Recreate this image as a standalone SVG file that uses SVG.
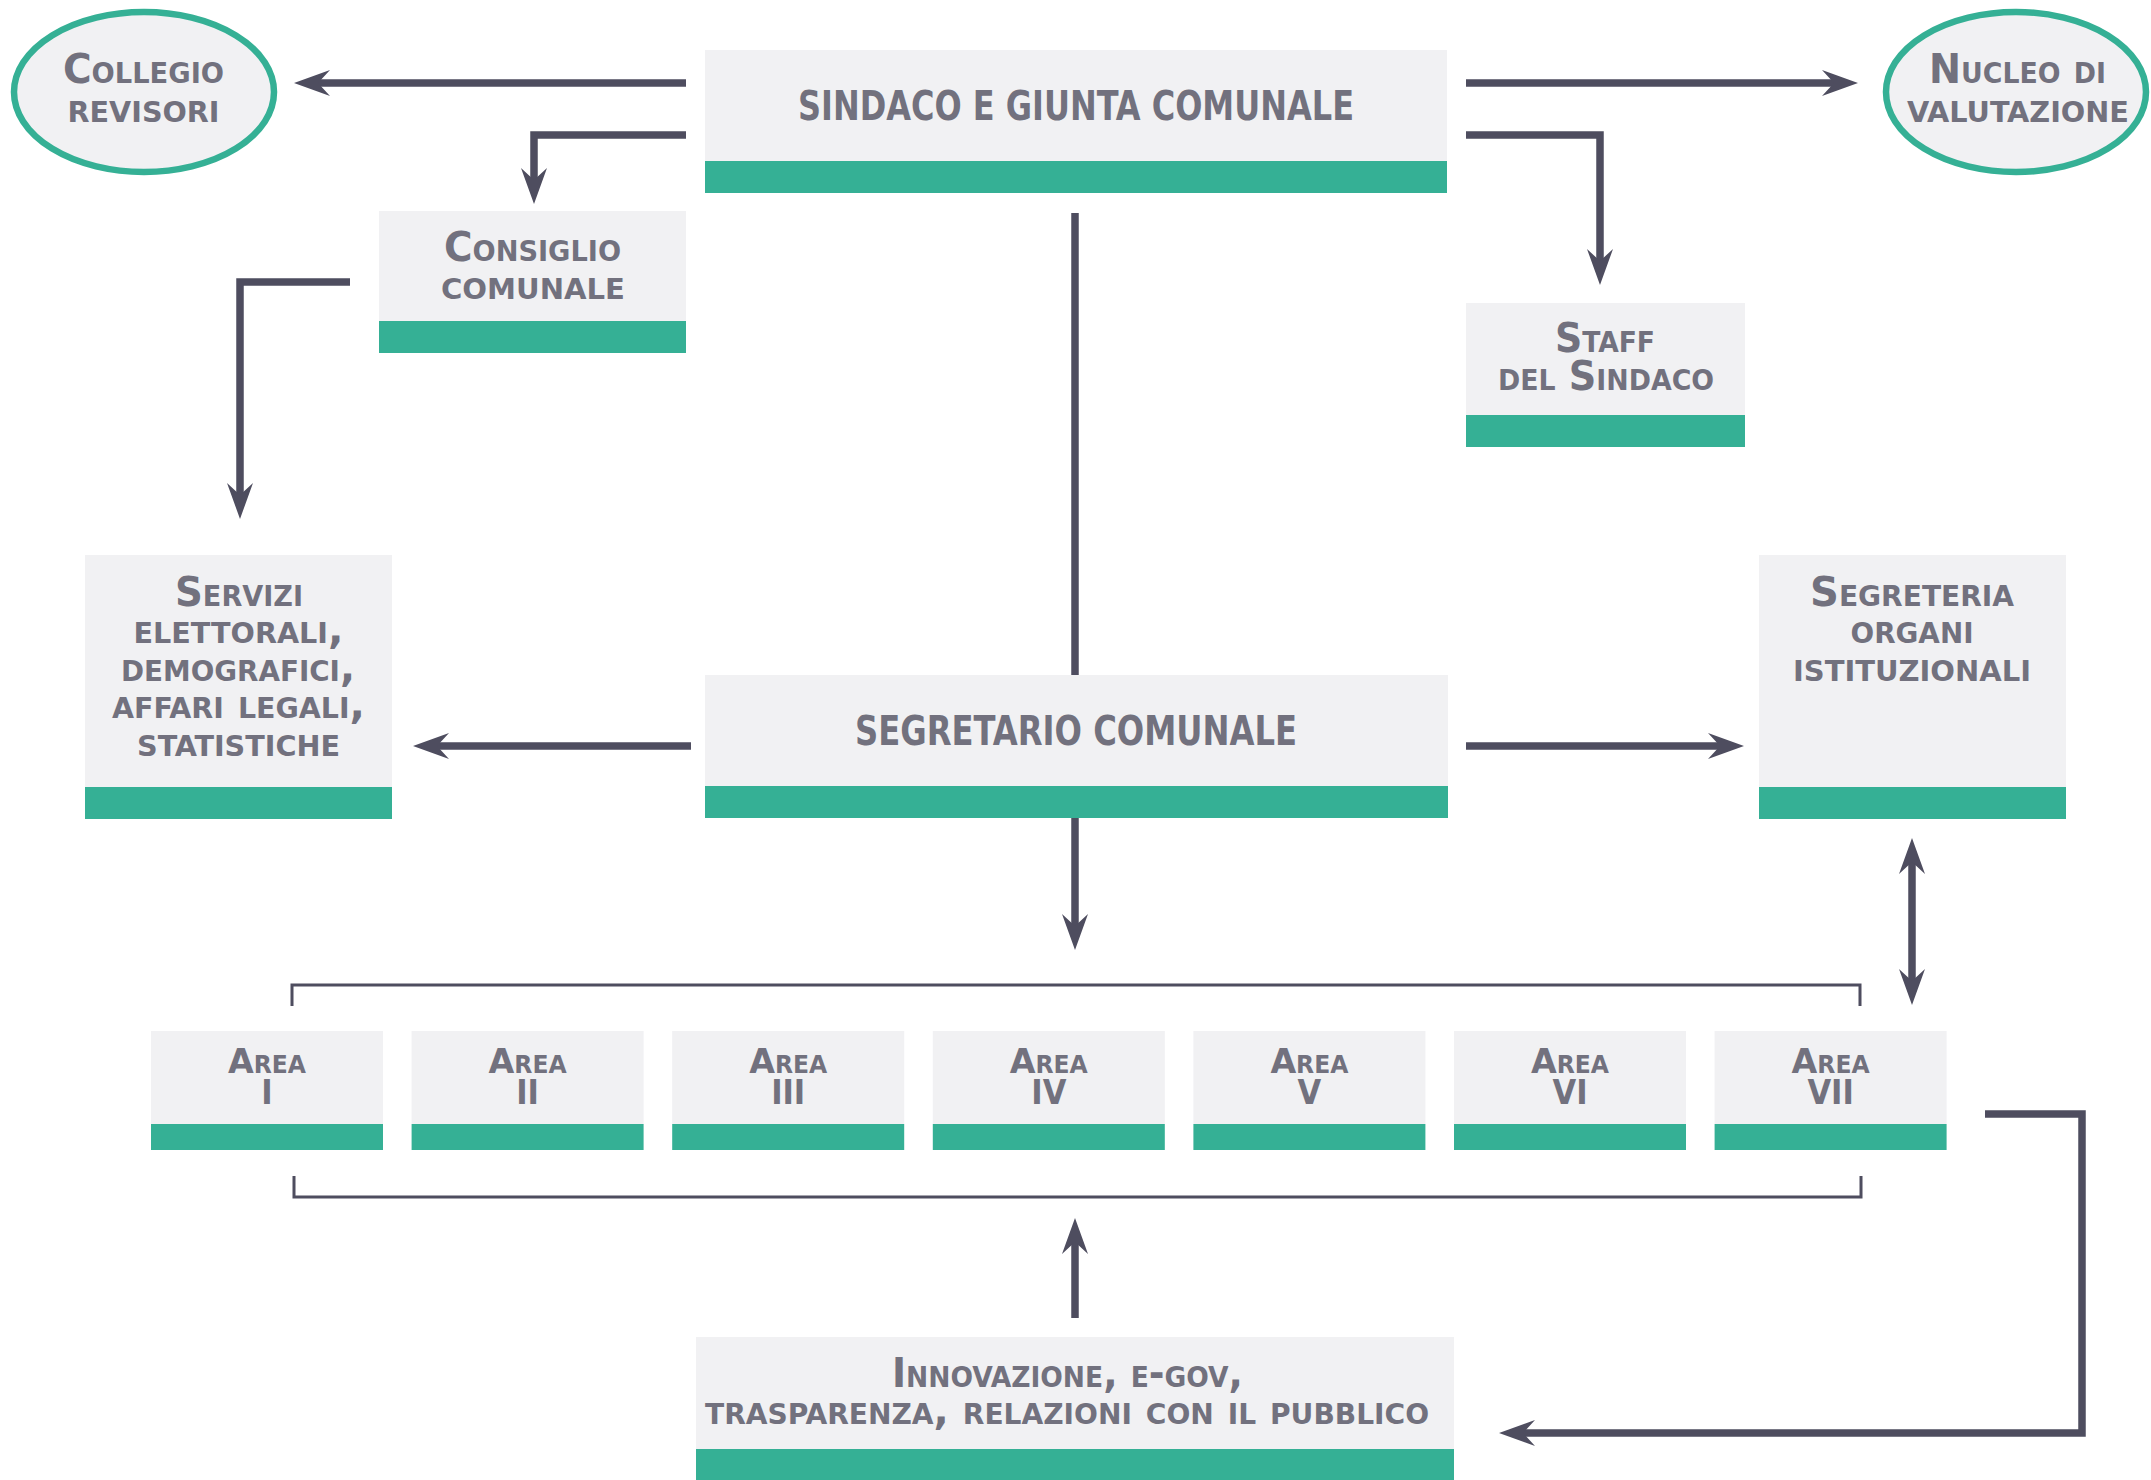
<svg xmlns="http://www.w3.org/2000/svg" width="2151" height="1480" viewBox="0 0 2151 1480">
<style>
.bg{fill:#f1f1f3}
.bar{fill:#35b095}
.ell{fill:#f1f1f3;stroke:#35b095;stroke-width:6.5}
.t{font-family:"DejaVu Sans Condensed","Liberation Sans Narrow","Liberation Sans",sans-serif;font-weight:bold;fill:#72717e;text-anchor:middle}
.sc{font-variant:small-caps;font-size:40px}
.big{font-size:41px}
.ar{font-size:34px;font-variant:small-caps}
.c{fill:none;stroke:#4e4d5f;stroke-width:7.5}
.br{fill:none;stroke:#4e4d5f;stroke-width:3}
</style>
<defs>
<marker id="ah" markerUnits="userSpaceOnUse" viewBox="0 -14 37 28" markerWidth="37" markerHeight="28" refX="16" refY="0" orient="auto-start-reverse">
<path d="M0,-13 L36,0 L0,13 L12,0 Z" fill="#4e4d5f"/>
</marker>
</defs>

<g id="connectors">
<path class="c" d="M686,83 H314" marker-end="url(#ah)"/>
<path class="c" d="M1466,83 H1838" marker-end="url(#ah)"/>
<path class="c" d="M686,135 H534 V184" marker-end="url(#ah)"/>
<path class="c" d="M1466,135 H1600 V265" marker-end="url(#ah)"/>
<path class="c" d="M1075,213 V675"/>
<path class="c" d="M350,282 H240 V499" marker-end="url(#ah)"/>
<path class="c" d="M691,746 H433" marker-end="url(#ah)"/>
<path class="c" d="M1466,746 H1724" marker-end="url(#ah)"/>
<path class="c" d="M1075,818 V930" marker-end="url(#ah)"/>
<path class="c" d="M1912,858 V985" marker-start="url(#ah)" marker-end="url(#ah)"/>
<path class="c" d="M1075,1318 V1238" marker-end="url(#ah)"/>
<path class="c" d="M1985,1114 H2082 V1433 H1519" marker-end="url(#ah)"/>
<path class="br" d="M292,1006 V985 H1860 V1006"/>
<path class="br" d="M294,1176 V1197 H1861 V1176"/>
</g>

<g id="collegio">
<ellipse class="ell" cx="144" cy="92" rx="130" ry="80"/>
<text class="t sc"><tspan x="143.5" y="83" textLength="161" lengthAdjust="spacingAndGlyphs">Collegio</tspan><tspan x="143.5" y="122" textLength="152" lengthAdjust="spacingAndGlyphs">revisori</tspan></text>
</g>

<g id="nucleo">
<ellipse class="ell" cx="2016" cy="92" rx="130" ry="80"/>
<text class="t sc"><tspan x="2017.5" y="83" textLength="177" lengthAdjust="spacingAndGlyphs">Nucleo di</tspan><tspan x="2018" y="122" textLength="222" lengthAdjust="spacingAndGlyphs">valutazione</tspan></text>
</g>

<g id="sindaco">
<rect class="bg" x="705" y="50" width="742" height="111"/>
<rect class="bar" x="705" y="161" width="742" height="32"/>
<text class="t big" x="1076" y="120" textLength="556" lengthAdjust="spacingAndGlyphs">SINDACO E GIUNTA COMUNALE</text>
</g>

<g id="consiglio">
<rect class="bg" x="379" y="211" width="307" height="110"/>
<rect class="bar" x="379" y="321" width="307" height="32"/>
<text class="t sc"><tspan x="532.5" y="261" textLength="177" lengthAdjust="spacingAndGlyphs">Consiglio</tspan><tspan x="533" y="299" textLength="184" lengthAdjust="spacingAndGlyphs">comunale</tspan></text>
</g>

<g id="staff">
<rect class="bg" x="1466" y="303" width="279" height="112"/>
<rect class="bar" x="1466" y="415" width="279" height="32"/>
<text class="t sc"><tspan x="1605" y="352" textLength="100" lengthAdjust="spacingAndGlyphs">Staff</tspan><tspan x="1606" y="390" textLength="216" lengthAdjust="spacingAndGlyphs">del Sindaco</tspan></text>
</g>

<g id="servizi">
<rect class="bg" x="85" y="555" width="307" height="232"/>
<rect class="bar" x="85" y="787" width="307" height="32"/>
<text class="t sc"><tspan x="239" y="606" textLength="128" lengthAdjust="spacingAndGlyphs">Servizi</tspan><tspan x="238.5" y="643" textLength="210" lengthAdjust="spacingAndGlyphs">elettorali,</tspan><tspan x="238" y="681" textLength="234" lengthAdjust="spacingAndGlyphs">demografici,</tspan><tspan x="238.5" y="718" textLength="253" lengthAdjust="spacingAndGlyphs">affari legali,</tspan><tspan x="238.5" y="756" textLength="203" lengthAdjust="spacingAndGlyphs">statistiche</tspan></text>
</g>

<g id="segretario">
<rect class="bg" x="705" y="675" width="743" height="111"/>
<rect class="bar" x="705" y="786" width="743" height="32"/>
<text class="t big" x="1076" y="745" textLength="442" lengthAdjust="spacingAndGlyphs">SEGRETARIO COMUNALE</text>
</g>

<g id="segreteria">
<rect class="bg" x="1759" y="555" width="307" height="232"/>
<rect class="bar" x="1759" y="787" width="307" height="32"/>
<text class="t sc"><tspan x="1912" y="606" textLength="204" lengthAdjust="spacingAndGlyphs">Segreteria</tspan><tspan x="1912" y="643" textLength="123" lengthAdjust="spacingAndGlyphs">organi</tspan><tspan x="1912" y="681" textLength="238" lengthAdjust="spacingAndGlyphs">istituzionali</tspan></text>
</g>

<g id="area1">
<rect class="bg" x="151" y="1031" width="232" height="93"/>
<rect class="bar" x="151" y="1124" width="232" height="26"/>
<text class="t ar"><tspan x="267" y="1073" textLength="78" lengthAdjust="spacingAndGlyphs">Area</tspan><tspan x="267" y="1104">I</tspan></text>
</g>
<g id="area2">
<rect class="bg" x="411.6" y="1031" width="232" height="93"/>
<rect class="bar" x="411.6" y="1124" width="232" height="26"/>
<text class="t ar"><tspan x="527.6" y="1073" textLength="78" lengthAdjust="spacingAndGlyphs">Area</tspan><tspan x="527.6" y="1104">II</tspan></text>
</g>
<g id="area3">
<rect class="bg" x="672.2" y="1031" width="232" height="93"/>
<rect class="bar" x="672.2" y="1124" width="232" height="26"/>
<text class="t ar"><tspan x="788.2" y="1073" textLength="78" lengthAdjust="spacingAndGlyphs">Area</tspan><tspan x="788.2" y="1104">III</tspan></text>
</g>
<g id="area4">
<rect class="bg" x="932.8" y="1031" width="232" height="93"/>
<rect class="bar" x="932.8" y="1124" width="232" height="26"/>
<text class="t ar"><tspan x="1048.8" y="1073" textLength="78" lengthAdjust="spacingAndGlyphs">Area</tspan><tspan x="1048.8" y="1104">IV</tspan></text>
</g>
<g id="area5">
<rect class="bg" x="1193.4" y="1031" width="232" height="93"/>
<rect class="bar" x="1193.4" y="1124" width="232" height="26"/>
<text class="t ar"><tspan x="1309.4" y="1073" textLength="78" lengthAdjust="spacingAndGlyphs">Area</tspan><tspan x="1309.4" y="1104">V</tspan></text>
</g>
<g id="area6">
<rect class="bg" x="1454" y="1031" width="232" height="93"/>
<rect class="bar" x="1454" y="1124" width="232" height="26"/>
<text class="t ar"><tspan x="1570" y="1073" textLength="78" lengthAdjust="spacingAndGlyphs">Area</tspan><tspan x="1570" y="1104">VI</tspan></text>
</g>
<g id="area7">
<rect class="bg" x="1714.6" y="1031" width="232" height="93"/>
<rect class="bar" x="1714.6" y="1124" width="232" height="26"/>
<text class="t ar"><tspan x="1830.6" y="1073" textLength="78" lengthAdjust="spacingAndGlyphs">Area</tspan><tspan x="1830.6" y="1104">VII</tspan></text>
</g>

<g id="innovazione">
<rect class="bg" x="696" y="1337" width="758" height="112"/>
<rect class="bar" x="696" y="1449" width="758" height="31"/>
<text class="t sc"><tspan x="1067.5" y="1387" textLength="351" lengthAdjust="spacingAndGlyphs">Innovazione, e-gov,</tspan><tspan x="1067" y="1424" textLength="724" lengthAdjust="spacingAndGlyphs">trasparenza, relazioni con il pubblico</tspan></text>
</g>
</svg>
